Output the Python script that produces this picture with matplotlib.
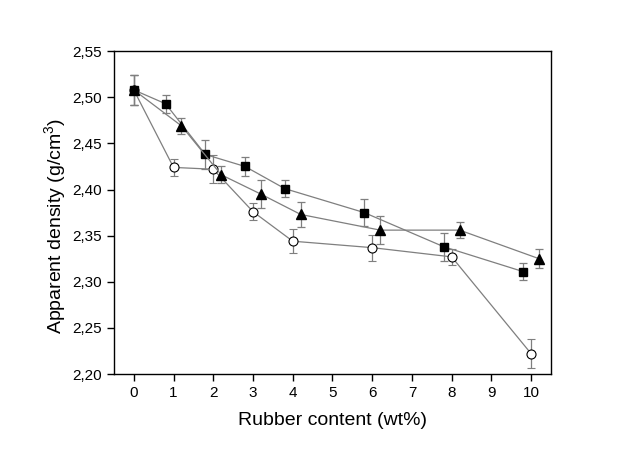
import matplotlib
matplotlib.use("Agg")
import matplotlib.pyplot as plt
from matplotlib.ticker import FuncFormatter, MultipleLocator

plt.rcParams['font.family'] = ['Liberation Sans', 'DejaVu Sans']
plt.rcParams['mathtext.fontset'] = 'custom'
plt.rcParams['mathtext.rm'] = 'Liberation Sans'
plt.rcParams['mathtext.it'] = 'Liberation Sans:italic'

# Series: filled squares
sq_x = [0, 0.8, 1.8, 2.8, 3.8, 5.8, 7.8, 9.8]
sq_y = [2.508, 2.493, 2.438, 2.425, 2.401, 2.375, 2.338, 2.311]
sq_e = [0.016, 0.010, 0.016, 0.010, 0.009, 0.015, 0.015, 0.009]

# Series: filled triangles
tr_x = [0, 1.2, 2.2, 3.2, 4.2, 6.2, 8.2, 10.2]
tr_y = [2.508, 2.469, 2.416, 2.395, 2.373, 2.356, 2.356, 2.325]
tr_e = [0.016, 0.009, 0.009, 0.015, 0.014, 0.015, 0.009, 0.010]

# Series: open circles
ci_x = [0, 1, 2, 3, 4, 6, 8, 10]
ci_y = [2.508, 2.424, 2.422, 2.376, 2.344, 2.337, 2.327, 2.222]
ci_e = [0.016, 0.009, 0.015, 0.009, 0.013, 0.014, 0.009, 0.016]

x_ticks = list(range(0, 11))

fig = plt.figure(figsize=(6.4, 4.49), dpi=100)
ax = fig.add_axes([0.178, 0.167, 0.683, 0.719])

line_c = '#7f7f7f'
err_c = '#7f7f7f'
common = dict(color=line_c, lw=0.9, ecolor=err_c, elinewidth=0.9, capsize=3, capthick=0.9)

ax.errorbar(ci_x, ci_y, yerr=ci_e, marker='o', ms=6.5, mfc='white', mec='black', mew=0.8, zorder=3, **common)
ax.errorbar(sq_x, sq_y, yerr=sq_e, marker='s', ms=5.5, mfc='black', mec='black', zorder=4, **common)
ax.errorbar(tr_x, tr_y, yerr=tr_e, marker='^', ms=7.5, mfc='black', mec='black', zorder=5, **common)

ax.set_xlim(-0.5, 10.5)
ax.set_ylim(2.20, 2.55)
ax.set_xticks(x_ticks)
ax.yaxis.set_major_locator(MultipleLocator(0.05))
ax.yaxis.set_major_formatter(FuncFormatter(lambda v, p: f"{v:.2f}".replace('.', ',')))

ax.tick_params(direction='out', length=5, width=1, labelsize=11, top=False, right=False)
for s in ax.spines.values():
    s.set_linewidth(1.0)
    s.set_color('black')

ax.set_xlabel('Rubber content (wt%)', fontsize=14, labelpad=9)
ax.set_ylabel('Apparent density (g/cm$^{3}$)', fontsize=14)
ax.yaxis.set_label_coords(-0.104, 0.46)

fig.savefig('out.png', dpi=100)
